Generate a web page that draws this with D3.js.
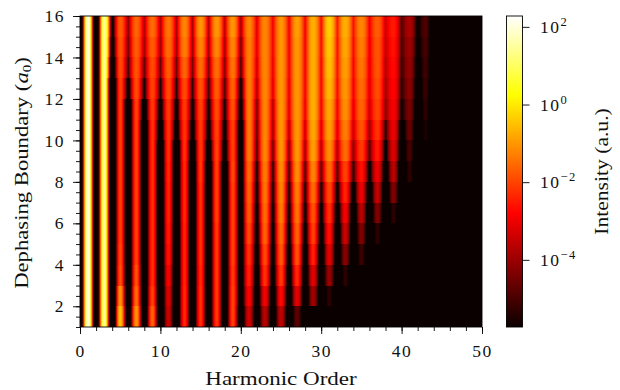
<!DOCTYPE html>
<html>
<head>
<meta charset="utf-8">
<script src="https://cdn.jsdelivr.net/npm/d3@7"></script>
<style>
  body { margin: 0; background: #fff; }
  text { font-family: "Liberation Serif", serif; fill: #111; }
</style>
</head>
<body>
<div class="chart"></div>
<script>
// log10 intensity. rows = boundary 1-2 ... 15-16
const boundaries = d3.range(1, 17);
const harmonics = d3.range(1, 46, 2);   // odd orders, the peaks
const evens = d3.range(0, 47, 2);       // even orders, the dips

const peakLevels = [
  [2.1,1.5,-0.4,-1.0,-1.6,-3.4,-2.3,-2.2,-2.1,-2.0,-3.3,-3.6,-3.5,-4.7,-6,-6,-6,-6,-6,-6,-6,-6,-6],
  [2.1,1.5,-1.0,-1.5,-2.0,-3.2,-2.3,-2.2,-2.1,-2.0,-2.8,-2.9,-2.7,-3.1,-3.9,-5.3,-6,-6,-6,-6,-6,-6,-6],
  [2.1,1.5,-1.8,-1.8,-2.2,-2.9,-2.4,-2.3,-2.1,-2.1,-2.4,-2.2,-2.1,-2.3,-3.1,-4.0,-5.3,-6,-6,-6,-6,-6,-6],
  [2.1,1.5,-1.9,-2.0,-2.2,-2.6,-2.4,-2.2,-2.1,-2.0,-2.2,-1.9,-1.7,-1.8,-2.4,-3.1,-4.2,-5.1,-6,-6,-6,-6,-6],
  [2.1,1.5,-2.0,-2.0,-2.2,-2.5,-2.4,-2.2,-2.1,-2.0,-1.9,-1.6,-1.5,-1.6,-2.0,-2.6,-3.4,-4.3,-5.3,-6,-6,-6,-6],
  [2.1,1.5,-2.0,-2.0,-2.2,-2.4,-2.3,-2.2,-2.0,-2.0,-1.7,-1.5,-1.3,-1.4,-1.8,-2.2,-2.9,-3.6,-4.3,-5.3,-6,-6,-6],
  [2.1,1.5,-2.0,-2.0,-2.2,-2.4,-2.3,-2.2,-2.0,-2.0,-1.6,-1.4,-1.2,-1.3,-1.5,-1.9,-2.4,-3.0,-3.5,-4.3,-6,-6,-6],
  [2.1,1.5,-2.0,-2.0,-2.2,-2.3,-2.3,-2.1,-2.0,-1.9,-1.5,-1.3,-1.1,-1.1,-1.2,-1.5,-2.0,-2.6,-3.0,-3.6,-5.3,-6,-6],
  [2.1,1.5,-2.0,-2.0,-2.2,-2.2,-2.2,-2.1,-2.0,-2.0,-1.3,-1.2,-1.0,-1.0,-0.9,-1.1,-1.5,-2.1,-2.5,-3.2,-5.0,-6,-6],
  [2.1,1.5,-2.0,-2.0,-2.2,-2.2,-2.2,-2.1,-2.0,-2.0,-1.3,-1.2,-1.0,-1.0,-0.8,-0.9,-1.3,-1.8,-2.2,-3.0,-4.6,-5.5,-6],
  [2.1,1.5,-2.0,-2.0,-2.1,-2.1,-2.1,-2.0,-1.9,-1.8,-1.3,-1.2,-1.0,-1.0,-0.7,-0.8,-1.1,-1.6,-2.0,-2.9,-4.4,-5.3,-6],
  [2.1,1.5,-2.0,-1.9,-2.0,-1.9,-1.9,-1.8,-1.7,-1.6,-1.3,-1.2,-1.0,-1.0,-0.7,-0.6,-1.0,-1.5,-1.9,-2.8,-4.2,-5.2,-6],
  [2.1,1.5,-1.9,-1.8,-1.9,-1.7,-1.6,-1.5,-1.5,-1.4,-1.3,-1.2,-1.0,-1.0,-0.7,-0.5,-0.9,-1.4,-1.8,-2.7,-4.1,-5.1,-6],
  [2.1,1.5,-1.8,-1.7,-1.7,-1.5,-1.3,-1.2,-1.2,-1.2,-1.3,-1.2,-1.0,-1.0,-0.7,-0.4,-0.8,-1.3,-1.8,-2.6,-4.0,-5.0,-6],
  [2.1,1.5,-1.7,-1.6,-1.5,-1.4,-1.2,-1.0,-1.0,-1.0,-1.2,-1.2,-1.0,-0.9,-0.7,-0.3,-0.7,-1.2,-1.7,-2.5,-3.8,-4.9,-6]
];

// below the colour floor on purpose: how fast a peak falls away toward the dip
const troughLevels = [
  [-14,-14,-14,-11,-11,-11,-11,-11,-11,-11,-10,-9,-9,-9,-9,-9,-9,-9,-9,-9,-9,-9,-9,-9],
  [-14,-14,-14,-11,-11,-11,-11,-11,-11,-11,-9,-9,-9,-9,-9,-9,-9,-9,-9,-9,-9,-9,-9,-9],
  [-14,-14,-14,-11,-11,-11,-11,-11,-11,-11,-9,-8.5,-8,-8.5,-9,-9,-9,-9,-9,-9,-9,-9,-9,-9],
  [-14,-14,-14,-11,-11,-11,-11,-11,-11,-11,-9,-8,-7.5,-8,-8.5,-9,-9,-9,-9,-9,-9,-9,-9,-9],
  [-14,-14,-14,-11,-11,-11,-11,-11,-11,-11,-9,-7.5,-7,-7,-7.5,-8,-9,-9,-9,-9,-9,-9,-9,-9],
  [-14,-14,-14,-11,-11,-11,-11,-11,-11,-11,-9,-7,-6.5,-6.5,-6.5,-7,-8,-9,-9,-9,-9,-9,-9,-9],
  [-14,-14,-14,-11,-11,-11,-11,-11,-11,-11,-9,-6.5,-6,-6,-5.8,-6,-6.5,-7.5,-8.5,-9,-9,-9,-9,-9],
  [-14,-14,-14,-11,-11,-11,-11,-11,-11,-11,-9,-6,-5.5,-5.2,-5,-4.8,-5,-5.5,-6.5,-8,-9,-9,-9,-9],
  [-14,-14,-14,-11,-11,-11,-11,-10,-9,-8,-9,-5,-4.6,-4.3,-4,-3.8,-3.9,-4.3,-5,-6.5,-8,-9,-9,-9],
  [-14,-14,-14,-11,-11,-9,-8,-7.5,-7.2,-7,-9,-4.8,-4,-3.7,-3.5,-3.3,-3.3,-3.6,-4.1,-5.5,-7.5,-9,-9,-9],
  [-14,-14,-14,-11,-9,-7.5,-7,-6.5,-6.3,-6,-7.5,-4.5,-3.8,-3.2,-3.1,-3.0,-3.0,-3.2,-3.5,-4.3,-6,-8,-9,-9],
  [-14,-14,-14,-7,-6,-5.7,-5.5,-5.3,-5.2,-5,-6.5,-3.8,-3.2,-3.1,-3.0,-2.9,-2.8,-3.0,-3.3,-4.0,-5.5,-7.5,-9,-9],
  [-14,-14,-10,-5.2,-4.8,-4.7,-4.6,-4.5,-4.4,-4.3,-5,-3.4,-3.1,-3.0,-3.0,-2.9,-2.7,-2.9,-3.2,-3.8,-5.3,-7,-9,-9],
  [-14,-14,-8,-4.6,-4,-4,-4,-4,-3.9,-3.9,-4.5,-3.2,-3.0,-3.0,-3.0,-2.8,-2.7,-2.8,-3.1,-3.6,-5.1,-6.5,-9,-9],
  [-14,-14,-7,-4.3,-3.8,-3.8,-3.8,-3.8,-3.7,-3.6,-4,-3.2,-3.0,-3.0,-3.0,-2.8,-2.6,-2.7,-3.0,-3.5,-5.0,-6.2,-9,-9]
];

const xTicks = [0, 10, 20, 30, 40, 50];
const yTicks = [2, 4, 6, 8, 10, 12, 14, 16];
const cbarExponents = [2, 0, -2, -4];
const levelMin = -5.73, levelMax = 2.28;

const margin = {top: 16, left: 80};
const width = 402, height = 311;

const svg = d3.select(".chart").append("svg")
    .attr("width", 620)
    .attr("height", 390);
const defs = svg.append("defs");

const xScale = d3.scaleLinear().domain([0, 50]).range([0, width]);
const yScale = d3.scaleLinear().domain([1, 16]).range([height, 0]);

// matplotlib "hot"
const hotStops = [0, 0.365, 0.746, 1];
const colorScale = d3.scaleLinear()
    .domain(hotStops.map(t => levelMin + t * (levelMax - levelMin)))
    .range(["#0b0000", "#ff0000", "#ffff00", "#ffffff"])
    .clamp(true);

const plot = svg.append("g")
    .attr("transform", `translate(${margin.left},${margin.top})`);

// one horizontal gradient per row, shading between the peak and dip readings
function rowStops(i) {
  const stops = [];
  harmonics.forEach((h, k) => {
    const p = peakLevels[i][k];
    const left = troughLevels[i][k], right = troughLevels[i][k + 1];
    d3.range(8).forEach(j => {
      const f = 1 - j / 8;
      stops.push([h - f, p + (left - p) * f * f]);
    });
    d3.range(8).forEach(j => {
      const f = j / 8;
      stops.push([h + f, p + (right - p) * f * f]);
    });
  });
  stops.push([46, -6], [50, -6]);
  return stops;
}

peakLevels.forEach((row, i) => {
  const grad = defs.append("linearGradient")
      .attr("id", "row" + i)
      .attr("gradientUnits", "userSpaceOnUse")
      .attr("x1", xScale(0)).attr("x2", xScale(50))
      .attr("y1", 0).attr("y2", 0);
  grad.selectAll("stop").data(rowStops(i)).enter().append("stop")
      .attr("offset", d => xScale(d[0]) / width)
      .attr("stop-color", d => colorScale(d[1]));
});

plot.selectAll(".cell")
    .data(peakLevels)
    .enter().append("rect")
      .attr("class", "cell")
      .attr("x", 0)
      .attr("width", width)
      .attr("y", (d, i) => yScale(boundaries[i + 1]))
      .attr("height", (d, i) => yScale(boundaries[i]) - yScale(boundaries[i + 1]))
      .attr("fill", (d, i) => `url(#row${i})`)
      .attr("shape-rendering", "crispEdges");

plot.append("rect")
    .attr("width", width).attr("height", height)
    .attr("fill", "none").attr("stroke", "#000").attr("stroke-width", 0.9);

function styleAxis(g) {
  g.select(".domain").remove();
  g.selectAll("line").attr("stroke", "#000").attr("stroke-width", 0.9);
  g.selectAll("text").style("font-size", "17.5px").style("letter-spacing", "1.5px");
}

plot.append("g")
    .attr("transform", `translate(0,${height})`)
    .call(d3.axisBottom(xScale).tickValues(d3.range(0, 51, 2)).tickSize(4).tickFormat(""))
    .call(styleAxis);
plot.append("g")
    .attr("transform", `translate(0,${height})`)
    .call(d3.axisBottom(xScale).tickValues(xTicks).tickSize(7).tickPadding(11))
    .call(styleAxis);
plot.append("g")
    .call(d3.axisLeft(yScale).tickValues(d3.range(1, 16.5, 0.5)).tickSize(4).tickFormat(""))
    .call(styleAxis);
plot.append("g")
    .call(d3.axisLeft(yScale).tickValues(yTicks).tickSize(7).tickPadding(8))
    .call(styleAxis);

svg.append("text")
    .attr("transform", "translate(281,385) scale(1.28,1)")
    .attr("text-anchor", "middle")
    .style("font-size", "18px")
    .text("Harmonic Order");

const yTitle = svg.append("text")
    .attr("transform", "translate(28,173) rotate(-90) scale(1.26,1)")
    .attr("text-anchor", "middle")
    .style("font-size", "18px")
    .text("Dephasing Boundary (");
yTitle.append("tspan").style("font-style", "italic").text("a");
yTitle.append("tspan").attr("dy", 3).style("font-size", "12px").text("0");
yTitle.append("tspan").attr("dy", -3).text(")");

// colorbar
const cbar = svg.append("g").attr("transform", "translate(506.5,16)");
const cbarW = 16;
const cbarScale = d3.scaleLog().domain([Math.pow(10, levelMin), Math.pow(10, levelMax)]).range([height, 0]);

const cbarGrad = defs.append("linearGradient")
    .attr("id", "cbar")
    .attr("x1", 0).attr("x2", 0).attr("y1", 1).attr("y2", 0);
cbarGrad.selectAll("stop").data(hotStops).enter().append("stop")
    .attr("offset", d => d)
    .attr("stop-color", d => colorScale(levelMin + d * (levelMax - levelMin)));

cbar.append("rect")
    .attr("width", cbarW).attr("height", height)
    .attr("fill", "url(#cbar)")
    .attr("stroke", "#000").attr("stroke-width", 0.9);

cbar.append("g")
    .attr("transform", `translate(${cbarW},0)`)
    .call(d3.axisRight(cbarScale)
        .tickValues(cbarExponents.map(e => Math.pow(10, e)))
        .tickSize(7).tickPadding(10.5)
        .tickFormat(""))
    .call(styleAxis)
    .selectAll(".tick text")
    .each(function(d, i) {
      const t = d3.select(this);
      t.append("tspan").text("10");
      t.append("tspan")
          .attr("dy", -7)
          .style("font-size", "12.5px")
          .text(String(cbarExponents[i]).replace("-", "\u2212"));
    });

svg.append("text")
    .attr("transform", "translate(608,171.5) rotate(-90) scale(1.2,1)")
    .attr("text-anchor", "middle")
    .style("font-size", "18px")
    .text("Intensity (a.u.)");
</script>
</body>
</html>
